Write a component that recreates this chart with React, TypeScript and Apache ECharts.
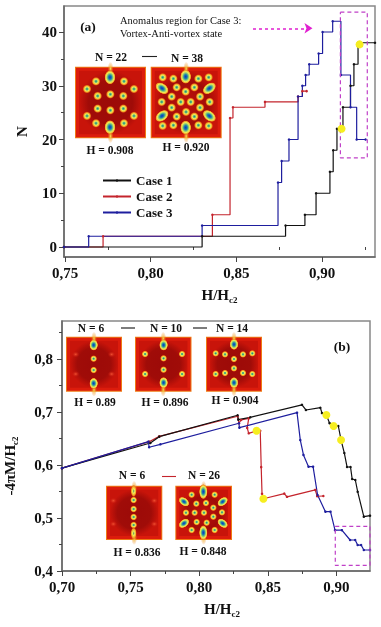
import React, { useEffect, useRef } from "react";
import * as echarts from "echarts";

const FONT = "Liberation Serif";

// Panel (a): vortex number N against H/Hc2, step data
const case1StepH = [0.7494, 0.83, 0.8787, 0.89, 0.8965, 0.9046, 0.9065, 0.9087, 0.9122, 0.9166, 0.9186, 0.921, 0.9309];
const case1StepN = [0, 2, 4, 6, 10, 14, 18, 22, 26, 30, 34, 38, 38];
const case2StepH = [0.7494, 0.7722, 0.836, 0.8463, 0.848, 0.8667, 0.886, 0.8885, 0.891];
const case2StepN = [0, 2, 6, 24, 26, 27, 28, 29, 29];
const case3StepH = [0.7494, 0.7638, 0.83, 0.8743, 0.8764, 0.8807, 0.886, 0.8885, 0.8904, 0.8925, 0.898, 0.9003, 0.9062, 0.911, 0.9166, 0.9202, 0.9254];
const case3StepN = [0, 2, 4, 12, 16, 20, 28, 30, 32, 34, 36, 40, 42, 32, 26, 20, 20];
const yellowA = [[0.9219, 37.7], [0.9114, 22]];
const regionAH = [0.9107, 0.9264, 0.9264, 0.9107, 0.9107];
const regionAN = [43.7, 43.7, 16.6, 16.6, 43.7];

// Panel (b): magnetisation against H/Hc2
const case1M = [[0.7, 0.594], [0.7644, 0.6415], [0.7709, 0.6534], [0.828, 0.6938], [0.8285, 0.6855], [0.8372, 0.69], [0.8749, 0.7135], [0.8778, 0.7038], [0.8883, 0.7081], [0.8895, 0.698], [0.8927, 0.6943], [0.895, 0.679], [0.9014, 0.6736], [0.9034, 0.6472], [0.9058, 0.6226], [0.9078, 0.5962], [0.9103, 0.5962], [0.9115, 0.5736], [0.9138, 0.5717], [0.9155, 0.5496], [0.92, 0.5025], [0.9245, 0.5044]];
const case2M = [[0.7, 0.594], [0.7635, 0.644], [0.7709, 0.654], [0.828, 0.692], [0.829, 0.6787], [0.8305, 0.6849], [0.8361, 0.688], [0.835, 0.67], [0.8361, 0.6598], [0.842, 0.6647], [0.8445, 0.6647], [0.8452, 0.596], [0.8458, 0.5458], [0.8468, 0.5364], [0.862, 0.546], [0.864, 0.54], [0.8846, 0.553], [0.886, 0.541], [0.8905, 0.5415]];
const case3M = [[0.7, 0.594], [0.763, 0.644], [0.7635, 0.6335], [0.7717, 0.639], [0.829, 0.6787], [0.8293, 0.6704], [0.8713, 0.6987], [0.8737, 0.647], [0.876, 0.619], [0.8797, 0.5968], [0.883, 0.5968], [0.8863, 0.5434], [0.892, 0.512], [0.8957, 0.512], [0.899, 0.477], [0.904, 0.477], [0.91, 0.4585], [0.9137, 0.4585], [0.9155, 0.449], [0.918, 0.449], [0.92, 0.4396], [0.9245, 0.4396]];
const yellowB = [[0.8418, 0.6647], [0.8468, 0.5364], [0.8927, 0.6943], [0.898, 0.6736], [0.9034, 0.6472]];
const regionBH = [0.8992, 0.9245, 0.9245, 0.8992, 0.8992];
const regionBM = [0.4843, 0.4843, 0.4107, 0.4107, 0.4843];

const xLabelsA = [0.75, 0.8, 0.85, 0.9];
const xMinorA = [0.775, 0.825, 0.875, 0.925];
const yLabelsA = [0, 10, 20, 30, 40];
const yMinorA = [5, 15, 25, 35];
const xLabelsB = [0.7, 0.75, 0.8, 0.85, 0.9];
const xMinorB = [0.725, 0.775, 0.825, 0.875, 0.925];
const yLabelsB = [0.4, 0.5, 0.6, 0.7, 0.8];
const yMinorB = [0.45, 0.55, 0.65, 0.75, 0.85];

const zip = (a: number[], b: number[]) => a.map((v, i) => [v, b[i]]);

// Inset vortex maps: [x, y, kind] in 3x crop coordinates. kind 0 small, 1 big, 2 "/" tilt, 3 "\" tilt, 4 faint, 5 tall
type Spot = [number, number, number];
const spotsA1: Spot[] = [[120, 52, 1], [78, 64, 0], [162, 64, 0], [51, 87, 0], [192, 87, 0], [83, 108, 0], [121, 103, 0], [160, 108, 0], [83, 146, 0], [121, 151, 0], [160, 146, 0], [51, 168, 0], [192, 168, 0], [78, 190, 0], [162, 190, 0], [120, 202, 1]];
const spotsA2: Spot[] = [[347, 50, 1], [278, 52, 0], [310, 56, 0], [385, 56, 0], [416, 52, 0], [276, 85, 3], [418, 85, 2], [320, 82, 0], [373, 82, 0], [347, 95, 0], [305, 110, 0], [390, 110, 0], [275, 126, 0], [332, 126, 0], [362, 126, 0], [419, 126, 0], [305, 143, 0], [390, 143, 0], [348, 156, 0], [276, 168, 2], [418, 168, 3], [320, 170, 0], [373, 170, 0], [278, 198, 0], [310, 196, 0], [385, 196, 0], [416, 198, 0], [347, 203, 1]];
const spotsB1: Spot[] = [[101, 45, 1], [101, 160, 1], [101, 86, 0], [101, 120, 0], [47, 73, 4], [155, 73, 4], [47, 132, 4], [155, 132, 4]];
const spotsB2: Spot[] = [[311, 45, 1], [311, 158, 1], [311, 85, 0], [311, 119, 0], [256, 72, 0], [366, 72, 0], [256, 132, 0], [366, 132, 0]];
const spotsB3: Spot[] = [[522, 43, 1], [522, 158, 1], [467, 70, 0], [495, 73, 0], [549, 73, 0], [577, 70, 0], [522, 87, 0], [522, 115, 0], [467, 132, 0], [495, 129, 0], [549, 129, 0], [577, 132, 0]];
const spotsB4: Spot[] = [[101, 33, 6], [101, 60, 0], [101, 87, 0], [101, 111, 0], [101, 135, 0], [101, 160, 6], [40, 62, 4], [163, 62, 4], [40, 132, 4], [163, 132, 4]];
const spotsB5: Spot[] = [[310, 35, 5], [310, 158, 5], [275, 44, 0], [344, 44, 0], [275, 150, 0], [344, 150, 0], [252, 65, 3], [368, 65, 2], [252, 130, 2], [368, 130, 3], [289, 71, 0], [318, 69, 0], [340, 83, 0], [258, 98, 0], [284, 98, 0], [312, 98, 0], [366, 97, 0], [340, 110, 0], [290, 126, 0], [320, 128, 0]];

const radial = (stops: [number, string][]) => ({
  type: "radial", x: 0.5, y: 0.5, r: 0.5,
  colorStops: stops.map(([offset, color]) => ({ offset, color })),
});
const smallFill = radial([[0, "#128a78"], [0.22, "#58b880"], [0.45, "#f2ea58"], [0.72, "#f09a20"], [1, "rgba(225,40,12,0)"]]);
const bigFill = radial([[0, "#0a2cc8"], [0.3, "#1c86a8"], [0.52, "#8ccc70"], [0.7, "#f2ea58"], [0.88, "#f09a20"], [1, "rgba(225,40,12,0)"]]);
const faintFill = radial([[0, "#f05030"], [1, "rgba(200,20,12,0)"]]);
const chainFill = radial([[0, "#60a060"], [0.35, "#f2ea58"], [0.72, "#f09a20"], [1, "rgba(225,40,12,0)"]]);

function inset(x: number, y: number, w: number, h: number, ox: number, oy: number, ow: number, oh: number, spots: Spot[], flare: boolean) {
  const els: any[] = [
    { type: "rect", x, y, shape: { width: w, height: h }, style: { fill: "#ee7a14" } },
    { type: "rect", x: x + 1, y: y + 1, shape: { width: w - 2, height: h - 2 }, style: { fill: "#dc1c0c" } },
    {
      type: "rect", x: x + 4, y: y + 4, shape: { width: w - 8, height: h - 8 },
      style: { fill: radial([[0, flare ? "#c0120c" : "#9c0a08"], [0.7, "#a00c08"], [1, "#c8140a"]]) },
    },
    { type: "ellipse", x: x + w / 2, y: y + 2, shape: { cx: 0, cy: 0, rx: 3, ry: 7 }, style: { fill: radial([[0, "#f4e050"], [1, "rgba(240,120,20,0)"]]) } },
    { type: "ellipse", x: x + w / 2, y: y + h - 2, shape: { cx: 0, cy: 0, rx: 3, ry: 7 }, style: { fill: radial([[0, "#f4e050"], [1, "rgba(240,120,20,0)"]]) } },
  ];
  const k = w / ow;
  spots.forEach(([sx, sy, kind]) => {
    const cx = x + (sx - ox) * k;
    const cy = y + (sy - oy) * (h / oh);
    const base = w / 71;
    let rx = 4.6 * base, ry = 4.6 * base, rotation = 0, fill: any = smallFill;
    if (kind === 1) { rx = 5.6 * base; ry = 7.2 * base; fill = bigFill; }
    if (kind === 2 || kind === 3) { rx = 7.6 * base; ry = 5 * base; rotation = kind === 2 ? 0.65 : -0.65; fill = bigFill; }
    if (kind === 4) { rx = 5 * base; ry = 4 * base; fill = faintFill; }
    if (kind === 5) { rx = 5.4 * base; ry = 9.5 * base; fill = bigFill; }
    if (kind === 6) { rx = 4 * base; ry = 8 * base; fill = chainFill; }
    els.push({ type: "ellipse", x: cx, y: cy, rotation, shape: { cx: 0, cy: 0, rx, ry }, style: { fill } });
  });
  return els;
}

const label = (text: string, x: number, y: number, size = 11.5, weight = "bold", align = "center") => ({
  type: "text", x, y, z: 20,
  style: { text, fontFamily: FONT, fontSize: size, fontWeight: weight, fill: "#111", align, verticalAlign: "middle" },
});
const dash = (x1: number, x2: number, y: number, stroke: string) => ({
  type: "line", shape: { x1, y1: y, x2, y2: y }, style: { stroke, lineWidth: 1.1 },
});

const axisTitleRich = {
  a: { fontFamily: FONT, fontSize: 15, fontWeight: "bold", color: "#111" },
  s: { fontFamily: FONT, fontSize: 9, fontWeight: "bold", color: "#111", verticalAlign: "bottom", padding: [9, 0, 0, 0] },
};

function xAxes(gridIndex: number, min: number, max: number, labels: number[], minor: number[], name: string, gap: number, namePad: number[]) {
  return [
    {
      type: "value", gridIndex, min, max, splitLine: { show: false }, name, nameLocation: "middle", nameGap: gap,
      nameTextStyle: { rich: axisTitleRich, padding: namePad },
      axisLine: { onZero: false, lineStyle: { color: "#666", width: 1.5 } },
      axisTick: { customValues: labels, length: 5, lineStyle: { color: "#444" } },
      axisLabel: { customValues: labels, margin: 8, fontFamily: FONT, fontSize: 15, fontWeight: "bold", color: "#111", formatter: (v: number) => v.toFixed(2).replace(".", ",") },
    },
    {
      type: "value", gridIndex, min, max, position: "bottom", splitLine: { show: false },
      axisLine: { show: false }, axisLabel: { show: false },
      axisTick: { customValues: minor, length: 3, lineStyle: { color: "#444" } },
    },
  ];
}
function yAxes(gridIndex: number, min: number, max: number, labels: number[], minor: number[], digits: number, margin: number, name: string, gap: number, namePad: number[]) {
  return [
    {
      type: "value", gridIndex, min, max, splitLine: { show: false }, name, nameLocation: "middle", nameGap: gap, nameRotate: 90,
      nameTextStyle: { rich: axisTitleRich, padding: namePad },
      axisLine: { onZero: false, lineStyle: { color: "#666", width: 1.5 } },
      axisTick: { customValues: labels, length: 5, lineStyle: { color: "#444" } },
      axisLabel: { customValues: labels, margin, fontFamily: FONT, fontSize: 15, fontWeight: "bold", color: "#111", formatter: (v: number) => v.toFixed(digits).replace(".", ",") },
    },
    {
      type: "value", gridIndex, min, max, position: "left", splitLine: { show: false },
      axisLine: { show: false }, axisLabel: { show: false },
      axisTick: { customValues: minor, length: 3, lineStyle: { color: "#444" } },
    },
  ];
}

const RED = "#c4242c";
const BLACK = "#111111";
const BLUE = "#1e1e9e";
const MAGENTA = "#c040c8";

function curve(name: string, data: number[][], color: string, axis: number, step: boolean) {
  return {
    type: "line", name, data, xAxisIndex: axis, yAxisIndex: axis,
    step: step ? "end" : false, showSymbol: true, symbol: "circle", symbolSize: 2.5,
    lineStyle: { color, width: 1.2 }, itemStyle: { color },
  };
}
function yellow(data: number[][], axis: number) {
  return { type: "scatter", name: "marks" + axis, data, xAxisIndex: axis, yAxisIndex: axis, symbol: "circle", symbolSize: 8, z: 5, itemStyle: { color: "#f6ee20", opacity: 1 } };
}
function region(data: number[][], axis: number, extra: any) {
  return {
    type: "line", name: "region" + axis, data, xAxisIndex: axis, yAxisIndex: axis, showSymbol: false, z: 4,
    lineStyle: { color: MAGENTA, width: 1.2, type: [4, 3] }, itemStyle: { color: MAGENTA }, ...extra,
  };
}

export default function App() {
  const ref = useRef<HTMLDivElement>(null);
  useEffect(() => {
    const chart = echarts.init(ref.current!, null, { renderer: "svg" });
    chart.setOption({
      animation: false,
      backgroundColor: "#fff",
      grid: [
        { left: 64, top: 6, width: 311, height: 251, outerBoundsMode: "none", show: true, borderColor: "#888", borderWidth: 1.5, backgroundColor: "transparent" },
        { left: 62, top: 321, width: 308, height: 250, outerBoundsMode: "none", show: true, borderColor: "#888", borderWidth: 1.5, backgroundColor: "transparent" },
      ],
      xAxis: [
        ...xAxes(0, 0.7494, 0.9309, xLabelsA, xMinorA, "{a|H/H}{s|c2}", 29, [0, 0, 0, 0]),
        ...xAxes(1, 0.7, 0.9245, xLabelsB, xMinorB, "{a|H/H}{s|c2}", 29, [0, 0, 0, 12]),
      ],
      yAxis: [
        ...yAxes(0, -1.86, 44.84, yLabelsA, yMinorA, 0, 7, "{a|N}", 35, [0, 0, 0, 0]),
        ...yAxes(1, 0.4, 0.8717, yLabelsB, yMinorB, 1, 9, "{a|-4πM/H}{s|c2}", 43, [0, 40, 0, 0]),
      ],
      legend: {
        data: ["Case 1", "Case 2", "Case 3"], orient: "vertical", left: 97, top: 169, itemWidth: 28, itemHeight: 3, itemGap: 3,
        textStyle: { fontFamily: FONT, fontSize: 13, fontWeight: "bold", color: "#111", lineHeight: 13, height: 13 },
      },
      series: [
        region(zip(regionAH, regionAN), 0, {
          markLine: {
            silent: true, symbol: ["none", "arrow"], symbolSize: 8, label: { show: false },
            lineStyle: { color: "#e020d0", width: 1.6, type: [3, 3] },
            data: [[{ coord: [0.8597, 40.7] }, { coord: [0.8944, 40.7] }]],
          },
        }),
        region(zip(regionBH, regionBM), 2, {}),
        curve("Case 2", zip(case2StepH, case2StepN), RED, 0, true),
        curve("Case 1", zip(case1StepH, case1StepN), BLACK, 0, true),
        curve("Case 3", zip(case3StepH, case3StepN), BLUE, 0, true),
        curve("Case 2", case2M, RED, 2, false),
        curve("Case 1", case1M, BLACK, 2, false),
        curve("Case 3", case3M, BLUE, 2, false),
        yellow(yellowA, 0),
        yellow(yellowB, 2),
      ],
      graphic: {
        elements: [
          ...inset(75, 66.7, 71, 71.5, 15, 20, 213, 215, spotsA1, false),
          ...inset(150.7, 66.7, 71, 71.5, 242, 20, 213, 215, spotsA2, true),
          ...inset(66, 336.7, 56, 55, 18, 20, 168, 165, spotsB1, false),
          ...inset(135, 336.7, 56.5, 55, 226, 20, 168, 165, spotsB2, false),
          ...inset(206, 336.7, 56, 55, 438, 20, 168, 165, spotsB3, false),
          ...inset(106, 485.7, 56.3, 54.3, 18, 17, 169, 163, spotsB4, false),
          ...inset(175.3, 485.7, 56.7, 54.3, 226, 17, 170, 163, spotsB5, true),
          label("(a)", 88, 26, 13.5),
          label("Anomalus region for Case 3:", 120, 20, 10.5, "normal", "left"),
          label("Vortex-Anti-vortex state", 120, 33, 10.5, "normal", "left"),
          label("N = 22", 111, 57), dash(142, 157, 56.5, "#222"), label("N = 38", 187, 58),
          label("H = 0.908", 110, 150), label("H = 0.920", 186, 147),
          label("(b)", 342, 346, 13.5),
          label("N = 6", 91, 328), dash(121, 135, 328, "#111"), label("N = 10", 166, 328), dash(193, 207, 328, "#111"), label("N = 14", 232, 328),
          label("H = 0.89", 95, 402), label("H = 0.896", 165, 402), label("H = 0.904", 235, 400),
          label("N = 6", 132, 475), dash(162, 176, 476.5, RED), label("N = 26", 204, 475),
          label("H = 0.836", 137, 552), label("H = 0.848", 203, 551),
        ],
      },
    });
    return () => chart.dispose();
  }, []);
  return <div ref={ref} style={{ position: "absolute", left: 0, top: 0, width: 381, height: 627, filter: "blur(0.35px)" }} />;
}
